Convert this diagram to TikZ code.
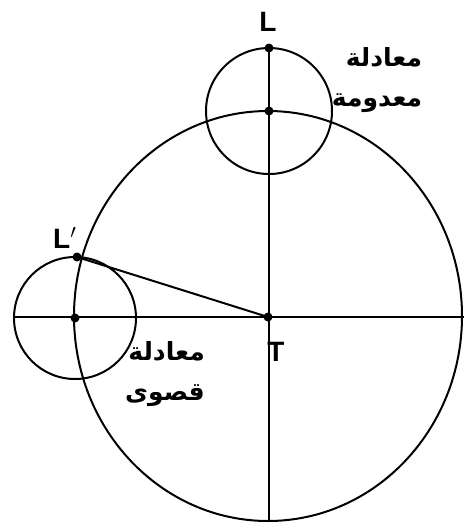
\documentclass[tikz,border=0pt]{standalone}
\usepackage{fontspec}
\setmainfont{Liberation Sans}
\newfontfamily\arabicfont[Script=Arabic]{DejaVu Sans}
\TeXXeTstate=1
\begin{document}
\begin{tikzpicture}[x=0.5pt,y=-0.5pt,
  ln/.style={line width=1pt},
  dot/.style={circle,fill=black,inner sep=0pt,minimum size=4.5pt},
  lbl/.style={font=\fontsize{14}{16}\selectfont\bfseries},
  ar/.style={font=\fontsize{12.5}{20}\selectfont\arabicfont\bfseries,align=right}]
\useasboundingbox (0,0) rectangle (464,526);
% points
\coordinate (T) at (268,317);
\coordinate (O) at (269,111);
\coordinate (L) at (269,48);
\coordinate (C) at (75,318);
\coordinate (Lp) at (77,257);
\coordinate (Bot) at (269,521);
\coordinate (Le) at (13,317);
\coordinate (Re) at (464,317);
% big circle
\draw[ln] (268,316) ellipse [x radius=97pt, y radius=102.5pt];
% small circles
\draw[ln] (O) circle [radius=31.5pt];
\draw[ln] (C) circle [radius=30.5pt];
% lines
\draw[ln] (L) -- (Bot);
\draw[ln] (Le) -- (Re);
\draw[ln] (Lp) -- (T);
% dots
\node[dot] (nL) at (L) {};
\node[dot] (nO) at (O) {};
\node[dot] (nT) at (T) {};
\node[dot] (nC) at (C) {};
\node[dot] (nLp) at (Lp) {};
% labels
\node[lbl] (tL) at (268,22) {L};
\node[lbl] (tLp) at (65,238) {L$'$};
\node[lbl] (tT) at (276,352) {T};
\node[ar] (a1) at (377,80) {\beginR معادلة\endR\\\beginR معدومة\endR};
\node[ar] (a2) at (165,374) {\beginR معادلة\endR\\\beginR قصوى\endR};
\end{tikzpicture}
\end{document}
